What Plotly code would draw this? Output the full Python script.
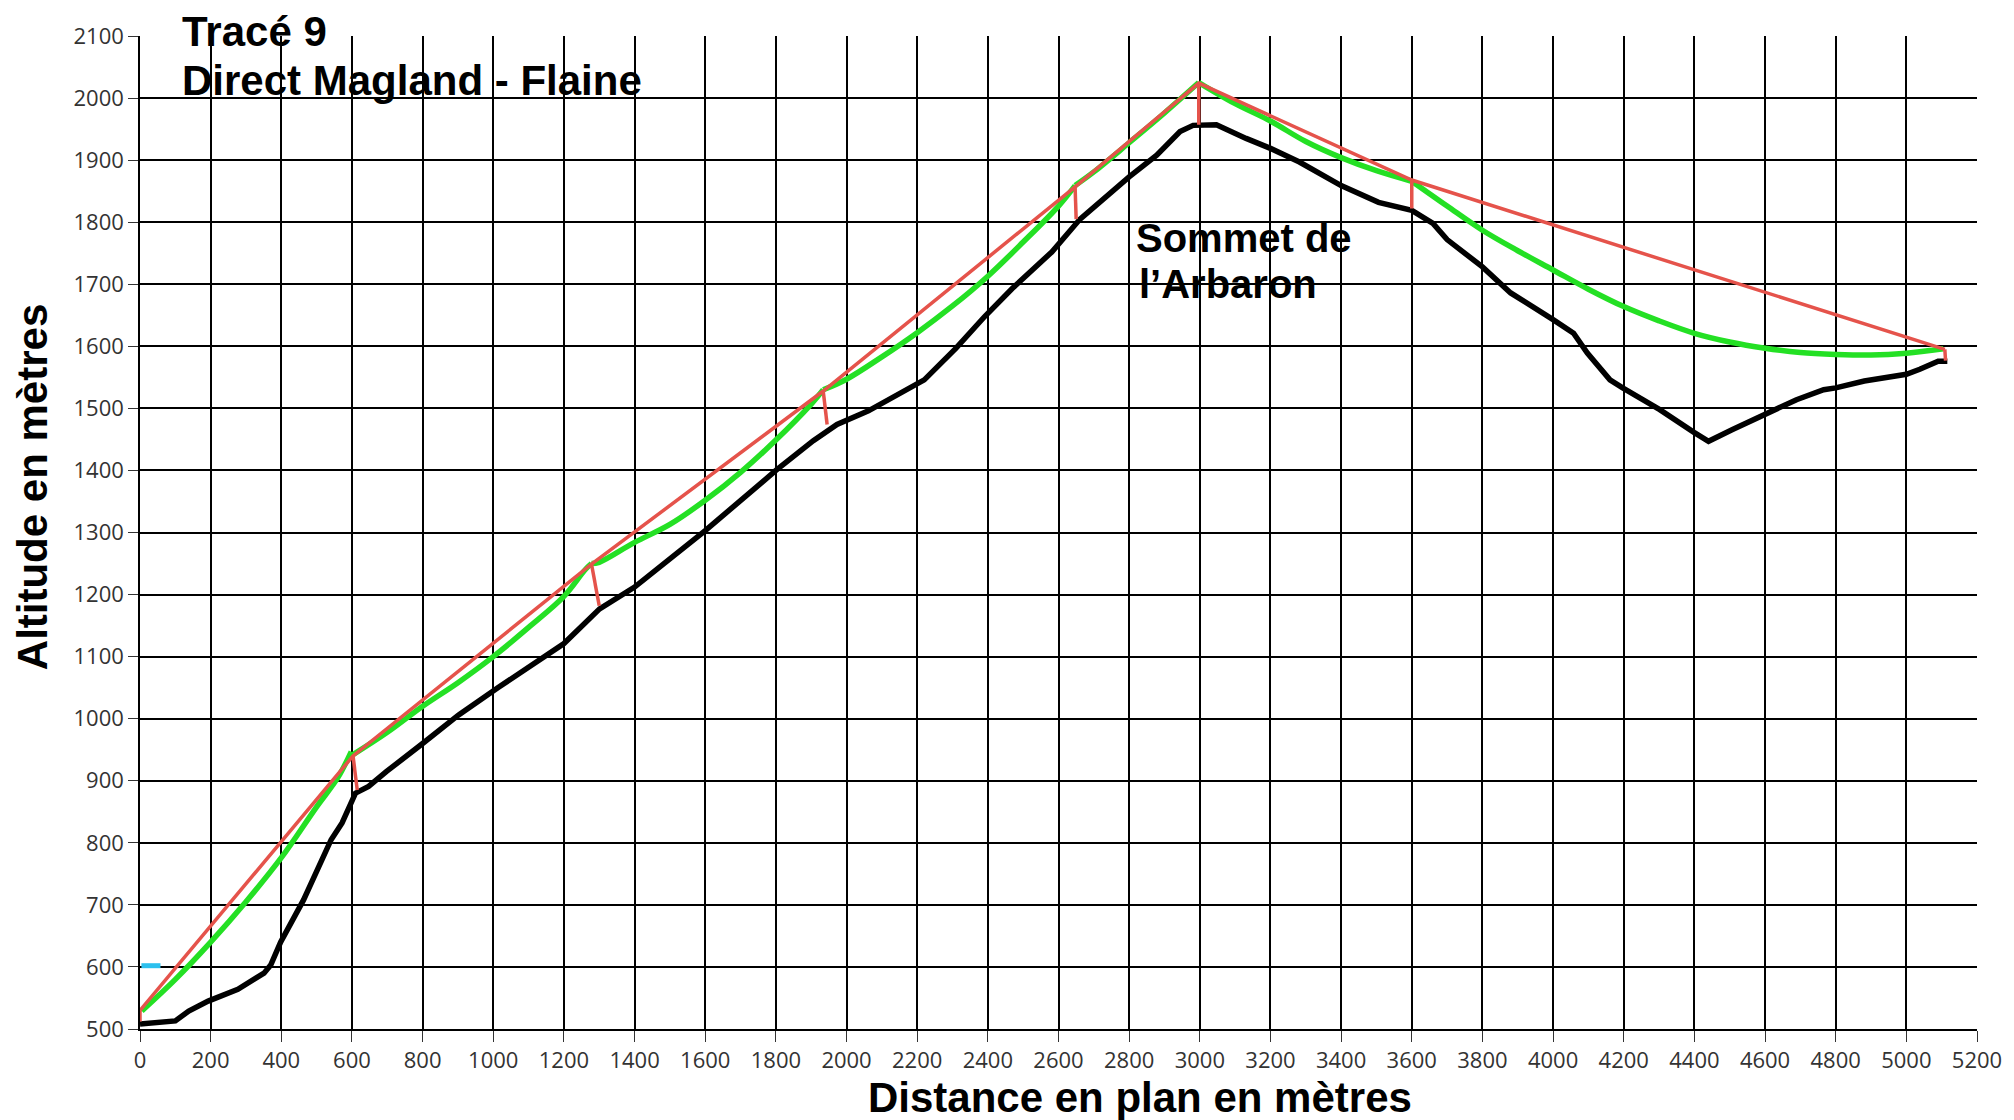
import plotly.graph_objects as go

# Terrain profile (black)
terrain_x = [0, 100, 138, 193, 277, 351, 370, 398, 463, 509, 541, 572, 610, 647, 698, 800, 902, 1016,
             1200, 1301, 1400, 1600, 1800, 1906, 1973, 2062, 2198, 2220, 2310, 2391, 2469, 2581, 2661,
             2800, 2878, 2944, 2981, 3047, 3131, 3200, 3282, 3400, 3506, 3600, 3660, 3700, 3800, 3880,
             4000, 4058, 4097, 4161, 4197, 4302, 4400, 4440, 4508, 4600, 4689, 4766, 4800, 4881, 5000,
             5038, 5090, 5116]
terrain_y = [508, 513, 529, 545, 564, 590, 603, 640, 708, 768, 805, 832, 880, 891, 915, 960, 1006, 1051,
             1121, 1177, 1212, 1303, 1400, 1448, 1474, 1496, 1538, 1546, 1597, 1648, 1693, 1752, 1805,
             1873, 1908, 1946, 1956, 1957, 1935, 1919, 1897, 1859, 1832, 1819, 1798, 1772, 1728, 1686,
             1643, 1621, 1589, 1546, 1533, 1498, 1461, 1447, 1466, 1490, 1514, 1530, 1533, 1544, 1555,
             1563, 1576, 1576]

# Cable (green), one span per list entry between pylons
cable_spans_x = [
    [5, 100, 200, 300, 400, 500, 560, 598],
    [603, 700, 800, 900, 1000, 1100, 1200, 1260, 1278],
    [1278, 1300, 1400, 1500, 1600, 1700, 1800, 1900, 1934],
    [1934, 2000, 2100, 2200, 2300, 2400, 2500, 2600, 2647],
    [2647, 2700, 2800, 2900, 2997],
    [2997, 3100, 3200, 3300, 3400, 3500, 3600],
    [3600, 3700, 3800, 3900, 4000, 4100, 4200, 4300, 4400, 4500, 4600, 4700, 4800, 4900, 5000, 5105],
]
cable_spans_y = [
    [529, 580, 640, 705, 776, 858, 905, 947],
    [942, 978, 1020, 1058, 1100, 1147, 1197, 1240, 1250],
    [1250, 1252, 1284, 1313, 1352, 1397, 1449, 1507, 1530],
    [1530, 1547, 1583, 1622, 1665, 1713, 1768, 1826, 1859],
    [1859, 1881, 1928, 1976, 2025],
    [2025, 1991, 1963, 1930, 1904, 1883, 1866],
    [1866, 1826, 1787, 1754, 1723, 1692, 1664, 1641, 1621, 1607, 1597, 1590, 1587, 1586, 1589, 1596],
]

# Chord between pylon tops (red)
chord_x = [0, 603, 1278, 1934, 2647, 2997, 3600, 5109]
chord_y = [530, 940, 1249, 1528, 1857, 2024, 1868, 1595]

# Pylon feet (red short segments)
pylon_foot_x = [0, 615, 1300, 1945, 2650, 2997, 3600, 5111]
pylon_foot_y = [512, 885, 1182, 1474, 1805, 1957, 1822, 1577]

# Small cyan mark
mark_x = [4, 58]
mark_y = [602, 602]

x_ticks = list(range(0, 5201, 200))
y_ticks = list(range(500, 2101, 100))

RED = "#E5534B"
GREEN = "#24E024"
CYAN = "#2CC0EE"

fig = go.Figure()
fig.add_trace(go.Scatter(x=terrain_x, y=terrain_y, mode="lines",
                         line=dict(color="black", width=5.5), hoverinfo="skip"))
for sx, sy in zip(cable_spans_x, cable_spans_y):
    fig.add_trace(go.Scatter(x=sx, y=sy, mode="lines",
                             line=dict(color=GREEN, width=5.5, shape="spline", smoothing=1.0),
                             hoverinfo="skip"))
fig.add_trace(go.Scatter(x=chord_x, y=chord_y, mode="lines",
                         line=dict(color=RED, width=3.5), hoverinfo="skip"))
for tx, ty, bx, by in zip(chord_x, chord_y, pylon_foot_x, pylon_foot_y):
    fig.add_trace(go.Scatter(x=[tx, bx], y=[ty, by], mode="lines",
                             line=dict(color=RED, width=3.5), hoverinfo="skip"))
fig.add_trace(go.Scatter(x=mark_x, y=mark_y, mode="lines",
                         line=dict(color=CYAN, width=5), hoverinfo="skip"))

title_font = dict(family="Liberation Sans, Arial, sans-serif", size=42, color="black")
anns = [
    dict(text="<b>Tracé 9</b>", x=0.0217, y=1.005, xref="paper", yref="paper",
         xanchor="left", yanchor="middle", showarrow=False, font=title_font),
    dict(text="<b>Direct Magland - Flaine</b>", x=0.0217, y=0.955, xref="paper", yref="paper",
         xanchor="left", yanchor="middle", showarrow=False, font=title_font),
    dict(text="<b>Sommet de</b>", x=0.541, y=0.797, xref="paper", yref="paper",
         xanchor="left", yanchor="middle", showarrow=False, font=dict(title_font, size=40)),
    dict(text="<b>l’Arbaron</b>", x=0.5425, y=0.750, xref="paper", yref="paper",
         xanchor="left", yanchor="middle", showarrow=False, font=dict(title_font, size=40)),
    dict(text="<b>Distance en plan en mètres</b>", x=0.5445, y=-0.069, xref="paper", yref="paper",
         xanchor="center", yanchor="middle", showarrow=False, font=title_font),
    dict(text="<b>Altitude en mètres</b>", x=-0.0586, y=0.546, xref="paper", yref="paper",
         xanchor="center", yanchor="middle", showarrow=False, textangle=-90, font=title_font),
]

tick_font = dict(family="Open Sans, Noto Sans, sans-serif", size=22, color="#333333")

fig.update_layout(
    width=2006, height=1112,
    margin=dict(l=132, r=31, t=23, b=91),
    paper_bgcolor="white", plot_bgcolor="white",
    showlegend=False,
    annotations=anns,
    xaxis=dict(range=[0, 5200], tickvals=x_ticks, ticktext=[str(v) for v in x_ticks],
               showgrid=True, gridcolor="black", gridwidth=1.5,
               showline=True, linecolor="black", linewidth=1.5, mirror=False,
               ticks="outside", ticklen=11, tickwidth=1.3, tickcolor="#333333",
               tickfont=tick_font, zeroline=False, fixedrange=True),
    yaxis=dict(range=[500, 2100], tickvals=y_ticks, ticktext=[str(v) for v in y_ticks],
               showgrid=True, gridcolor="black", gridwidth=1.5,
               showline=True, linecolor="black", linewidth=1.5,
               ticks="outside", ticklen=10, tickwidth=1.3, tickcolor="#333333",
               tickfont=tick_font, zeroline=False, fixedrange=True),
)

fig.write_html("out.html")
